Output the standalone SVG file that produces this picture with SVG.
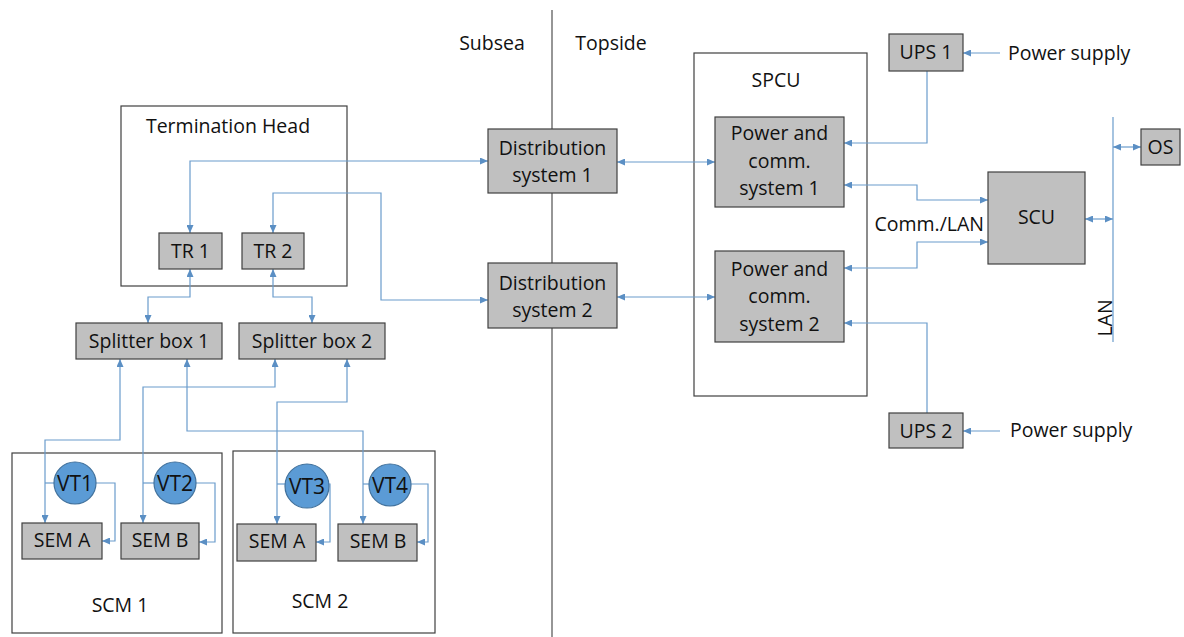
<svg xmlns="http://www.w3.org/2000/svg" width="1184" height="637" viewBox="0 0 1184 637">
<style>
text{font-family:"Open Sans","Liberation Sans",sans-serif;font-size:19.5px;fill:#111;text-anchor:middle}
.vtt{font-size:21px}
.frame{fill:#fff;stroke:#404040;stroke-width:1.2}
.box{fill:#c0c0c0;stroke:#404040;stroke-width:1.2}
.vt{fill:#5b9bd5;stroke:#41719c;stroke-width:1.2}
.c{fill:none;stroke:#6a9ccc;stroke-width:1.2}
.b{marker-start:url(#ah);marker-end:url(#ah)}
.e{marker-end:url(#ah)}
</style>
<defs>
<marker id="ah" markerUnits="userSpaceOnUse" viewBox="0 0 8 7" markerWidth="8" markerHeight="7" refX="8" refY="3.5" orient="auto-start-reverse">
<path d="M0,0 L8,3.5 L0,7 z" fill="#5b8fc4"/>
</marker>
</defs>
<rect width="1184" height="637" fill="#fff"/>
<line x1="552" y1="10" x2="552" y2="637" stroke="#505050" stroke-width="1.2"/>
<text x="492" y="50">Subsea</text>
<text x="611" y="50">Topside</text>

<g id="termination-head"><rect class="frame" x="121" y="106" width="226" height="180"/><text x="228" y="133">Termination Head</text></g>
<g id="scm1"><rect class="frame" x="12" y="453" width="210" height="180"/><text x="120" y="612">SCM 1</text></g>
<g id="scm2"><rect class="frame" x="233" y="451" width="202" height="182"/><text x="320" y="608">SCM 2</text></g>
<g id="spcu"><rect class="frame" x="694" y="53" width="173" height="343"/><text x="776" y="87">SPCU</text></g>

<g id="connectors">
<path class="c b" d="M190 233 V161 H488"/>
<path class="c b" d="M273 233 V193 H381 V300 H488"/>
<path class="c b" d="M190 269 V297 H148 V323"/>
<path class="c b" d="M273 269 V297 H312 V323"/>
<path class="c b" d="M120 359 V440 H45 V523"/>
<path class="c b" d="M275 359 V387 H143 V523"/>
<path class="c b" d="M187 359 V431 H363 V524"/>
<path class="c b" d="M347 359 V402 H277 V524"/>
<path class="c" d="M45 483 H54"/>
<path class="c e" d="M96 483 H115 V541 H102"/>
<path class="c" d="M143 483 H154"/>
<path class="c e" d="M196 483 H215 V542 H199"/>
<path class="c" d="M277 484 H286"/>
<path class="c e" d="M328 484 H330 V542 H316"/>
<path class="c" d="M363 484 H369"/>
<path class="c e" d="M411 484 H428 V542 H417"/>
<path class="c b" d="M617 162 H715"/>
<path class="c b" d="M617 297 H715"/>
<path class="c e" d="M927 71 V143 H844"/>
<path class="c e" d="M1000 53 H963"/>
<path class="c b" d="M844 185 H917 V200 H988"/>
<path class="c b" d="M844 268 H917 V242 H988"/>
<path class="c e" d="M927 413 V323 H844"/>
<path class="c e" d="M1000 431 H963"/>
<path class="c" d="M1113 117 V342"/>
<path class="c b" d="M1085 219 H1113"/>
<path class="c b" d="M1113 147 H1141"/>
</g>

<g id="tr1"><rect class="box" x="159" y="233" width="63" height="36"/><text x="190.5" y="258">TR 1</text></g>
<g id="tr2"><rect class="box" x="242" y="233" width="62" height="36"/><text x="273" y="258">TR 2</text></g>
<g id="splitter1"><rect class="box" x="76" y="323" width="146" height="36"/><text x="149" y="348">Splitter box 1</text></g>
<g id="splitter2"><rect class="box" x="239" y="323" width="146" height="36"/><text x="312" y="348">Splitter box 2</text></g>
<g id="sem-a1"><rect class="box" x="22" y="523" width="80" height="36"/><text x="62" y="547">SEM A</text></g>
<g id="sem-b1"><rect class="box" x="121" y="523" width="78" height="36"/><text x="160" y="547">SEM B</text></g>
<g id="sem-a2"><rect class="box" x="237" y="524" width="79" height="37"/><text x="277" y="548">SEM A</text></g>
<g id="sem-b2"><rect class="box" x="338" y="524" width="79" height="37"/><text x="378" y="548">SEM B</text></g>
<g id="vt1"><circle class="vt" cx="75" cy="483" r="21"/><text class="vtt" x="75" y="491">VT1</text></g>
<g id="vt2"><circle class="vt" cx="175" cy="483" r="21"/><text class="vtt" x="175" y="491">VT2</text></g>
<g id="vt3"><circle class="vt" cx="307" cy="486" r="22"/><text class="vtt" x="307" y="494">VT3</text></g>
<g id="vt4"><circle class="vt" cx="390" cy="485" r="21"/><text class="vtt" x="390" y="493">VT4</text></g>
<g id="ds1"><rect class="box" x="488" y="129" width="129" height="64"/><text x="552.5" y="155">Distribution</text><text x="552.5" y="182">system 1</text></g>
<g id="ds2"><rect class="box" x="488" y="263" width="129" height="65"/><text x="552.5" y="290">Distribution</text><text x="552.5" y="317">system 2</text></g>
<g id="pc1"><rect class="box" x="715" y="117" width="129" height="90"/><text x="779.5" y="140">Power and</text><text x="779.5" y="168">comm.</text><text x="779.5" y="195">system 1</text></g>
<g id="pc2"><rect class="box" x="715" y="251" width="129" height="91"/><text x="779.5" y="276">Power and</text><text x="779.5" y="303">comm.</text><text x="779.5" y="331">system 2</text></g>
<g id="ups1"><rect class="box" x="889" y="34" width="74" height="37"/><text x="926" y="59">UPS 1</text></g>
<g id="ups2"><rect class="box" x="889" y="413" width="74" height="35"/><text x="926" y="438">UPS 2</text></g>
<g id="scu"><rect class="box" x="988" y="172" width="97" height="92"/><text x="1036.5" y="224">SCU</text></g>
<g id="os"><rect class="box" x="1141" y="129" width="39" height="36"/><text x="1160.5" y="154">OS</text></g>
<g id="labels">
<text x="1008" y="60" style="text-anchor:start">Power supply</text>
<text x="1010" y="437" style="text-anchor:start">Power supply</text>
<text x="984" y="231" style="text-anchor:end">Comm./LAN</text>
<text transform="translate(1112 318) rotate(-90)">LAN</text>
</g>
</svg>
